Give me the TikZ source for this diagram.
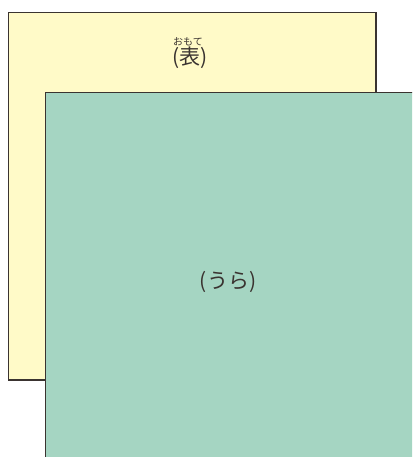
\documentclass[tikz,border=0pt]{standalone}
\usepackage{fontspec}
\newfontfamily\jp{Noto Sans CJK JP}
\definecolor{omote}{HTML}{FFFAC8}
\definecolor{ura}{HTML}{A5D5C2}
\definecolor{edge}{HTML}{3A3330}
\begin{document}
\begin{tikzpicture}[x=1pt,y=-1pt,
  sheet/.style={draw=edge,line width=1.6pt},
  lbl/.style={font=\jp\fontsize{21}{21}\selectfont,text=edge,inner sep=0pt},
  ruby/.style={font=\jp\fontsize{10}{10}\selectfont,text=edge,inner sep=0pt}]
\useasboundingbox (0,0) rectangle (412,457);
\clip (0,0) rectangle (412,457);
\path[sheet,fill=omote] (8.5,12.5) rectangle (376,380);
\node[lbl] (omote) at (190,58) {(表)};
\node[ruby] (furi) at (188,42) {おもて};
\path[sheet,fill=ura] (45.5,92.5) rectangle (414,461);
\node[lbl] (uralbl) at (228,282) {(うら)};
\end{tikzpicture}
\end{document}
